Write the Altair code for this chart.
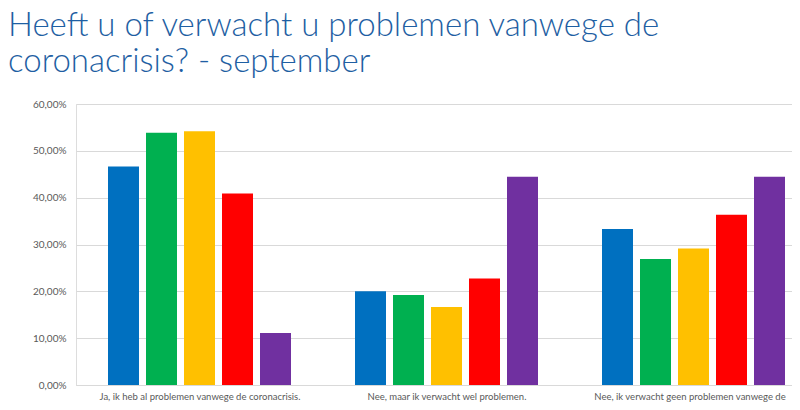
import json
import altair as alt
import pandas as pd

categories = [
    "Ja, ik heb al problemen vanwege de coronacrisis.",
    "Nee, maar ik verwacht wel problemen.",
    "Nee, ik verwacht geen problemen vanwege de",
]
series = ["Reeks 1", "Reeks 2", "Reeks 3", "Reeks 4", "Reeks 5"]
colors = ["#0070C0", "#00B050", "#FFC000", "#FF0000", "#7030A0"]

reeks1 = [0.4667, 0.2000, 0.3333]
reeks2 = [0.5385, 0.1923, 0.2692]
reeks3 = [0.5417, 0.1667, 0.2917]
reeks4 = [0.4091, 0.2273, 0.3636]
reeks5 = [0.1111, 0.4444, 0.4444]
values = [reeks1, reeks2, reeks3, reeks4, reeks5]

y_ticks = [0, 0.1, 0.2, 0.3, 0.4, 0.5, 0.6]

rows = []
for si, (name, vals) in enumerate(zip(series, values)):
    for gi, v in enumerate(vals):
        rows.append({"categorie": categories[gi], "gi": gi, "reeks": name, "si": si, "waarde": v})
df = pd.DataFrame(rows)

STEP_PX = 247.0
BAR_STEP = 38.0 / STEP_PX
BAR_HALF = 15.5 / STEP_PX
PLOT_W = 716
PLOT_H = 281
label_font = "Lato, Open Sans, sans-serif"

cat_js = json.dumps(categories)

chart = (
    alt.Chart(df)
    .transform_calculate(
        xc=f"datum.gi + 0.5 + (datum.si - 2) * {BAR_STEP}",
    )
    .transform_calculate(
        x1=f"datum.xc - {BAR_HALF}",
        x2=f"datum.xc + {BAR_HALF}",
    )
    .mark_bar()
    .encode(
        x=alt.X(
            "x1:Q",
            scale=alt.Scale(domain=[0, PLOT_W / STEP_PX], nice=False, zero=False),
            axis=alt.Axis(
                title=None,
                values=[0.5, 1.5, 2.5],
                labelExpr=f"{cat_js}[floor(datum.value)]",
                grid=False,
                ticks=False,
                domain=True,
                domainColor="#D9D9D9",
                domainWidth=1,
                labelColor="#595959",
                labelFont=label_font,
                labelFontSize=9.5,
                labelPadding=6,
                labelLimit=1000,
                labelOverlap=False,
                labelFlush=False,
                labelOffset={"condition": {"test": "datum.value > 2", "value": -4}, "value": 0},
            ),
        ),
        x2="x2:Q",
        y=alt.Y(
            "waarde:Q",
            scale=alt.Scale(domain=[0, 0.6], nice=False),
            axis=alt.Axis(
                title=None,
                values=y_ticks,
                labelExpr="replace(format(datum.value * 100, '.2f'), '.', ',') + '%'",
                grid=True,
                gridColor="#D9D9D9",
                gridWidth=1,
                domain=False,
                ticks=False,
                labelColor="#595959",
                labelFont=label_font,
                labelFontSize=10,
                labelPadding=10,
            ),
        ),
        y2=alt.datum(0),
        color=alt.Color(
            "reeks:N",
            scale=alt.Scale(domain=series, range=colors),
            legend=None,
        ),
        tooltip=["categorie:N", "reeks:N", alt.Tooltip("waarde:Q", format=".2%")],
    )
    .properties(
        width=PLOT_W,
        height=PLOT_H,
        title=alt.TitleParams(
            text=["Heeft u of verwacht u problemen vanwege de", "coronacrisis? - september"],
            anchor="start",
            frame="group",
            font="Lato, Open Sans, sans-serif",
            fontSize=33,
            fontWeight=300,
            color="#1F5FA3",
            lineHeight=36,
            baseline="bottom",
            offset=16,
            dx=-68,
            dy=29,
        ),
        autosize=alt.AutoSizeParams(type="none"),
        padding={"left": 68, "top": 96, "right": 0, "bottom": 17},
    )
    .configure_view(stroke=None)
    .configure(background="white")
)

chart.save("out.html", embed_options={"renderer": "svg", "actions": False})
